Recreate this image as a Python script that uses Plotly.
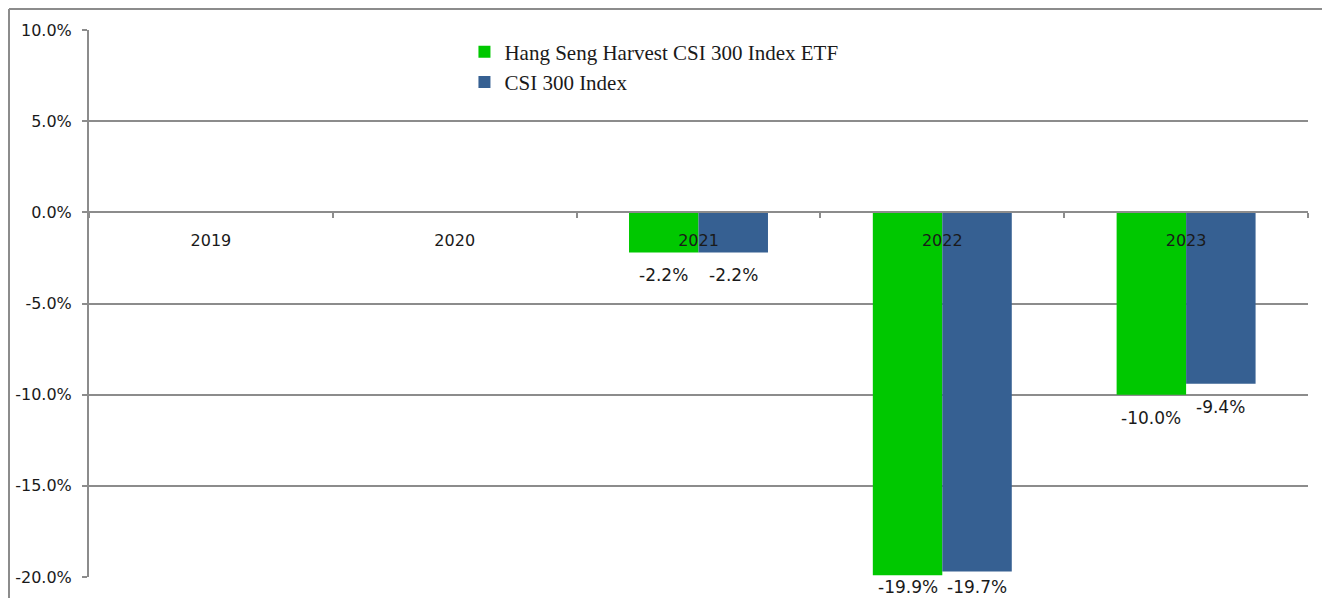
import plotly.graph_objects as go

years = ["2019", "2020", "2021", "2022", "2023"]
etf = [None, None, -2.2, -19.9, -10.0]
index = [None, None, -2.2, -19.7, -9.4]
etf_name = "Hang Seng Harvest CSI 300 Index ETF"
index_name = "CSI 300 Index"
tick_vals = [-20, -15, -10, -5, 0, 5, 10]

GREEN = "#00C800"
BLUE = "#366092"
GRID = "#8c8c8c"
TXT = "#1a1a1a"

# page has an 8px body margin, so the figure is a little smaller than the window
W, H = 1322, 590
ML, MR, MT, MB = 81, 22, 22, 21
YMIN, YMAX = -20, 10
plot_w = W - ML - MR
plot_h = H - MT - MB
BARGAP = 0.43

fig = go.Figure()
fig.add_trace(go.Bar(x=years, y=etf, name=etf_name, marker=dict(color=GREEN, line=dict(width=0))))
fig.add_trace(go.Bar(x=years, y=index, name=index_name, marker=dict(color=BLUE, line=dict(width=0))))

# data labels below bar ends (kept inside the chart area)
bar_px = plot_w / len(years) * (1 - BARGAP) / 2
for series, sign in ((etf, -1), (index, 1)):
    for i, v in enumerate(series):
        if v is None:
            continue
        px = MT + (YMAX - v) / (YMAX - YMIN) * plot_h
        shift = min(23, (H - 11) - px)
        fig.add_annotation(x=i, y=v, xref="x", yref="y", text=f"{v:.1f}%", showarrow=False,
                           xshift=sign * bar_px / 2, yshift=-shift,
                           yanchor="middle", xanchor="center",
                           font=dict(family="DejaVu Sans", size=17, color=TXT))

# outer chart-area border (top and left)
bx = (1 - ML) / plot_w
by = 1 + (MT - 1) / plot_h
fig.add_shape(type="line", xref="paper", yref="paper",
              x0=bx, x1=1.1, y0=by, y1=by, line=dict(color=GRID, width=2))
fig.add_shape(type="line", xref="paper", yref="paper",
              x0=bx, x1=bx, y0=by, y1=-0.2, line=dict(color=GRID, width=2))

fig.update_layout(
    width=W, height=H,
    margin=dict(l=ML, r=MR, t=MT, b=MB, autoexpand=False),
    paper_bgcolor="white", plot_bgcolor="white",
    barmode="group", bargap=BARGAP, bargroupgap=0,
    showlegend=True,
    legend=dict(x=0.308, y=0.997, xanchor="left", yanchor="top",
                bgcolor="rgba(0,0,0,0)", traceorder="normal",
                font=dict(family="Liberation Serif", size=21, color=TXT),
                itemwidth=30, tracegroupgap=0),
    font=dict(family="DejaVu Sans", color=TXT),
)
fig.update_xaxes(type="category", categoryorder="array", categoryarray=years,
                 range=[-0.5, len(years) - 0.5], tickangle=0, automargin=False,
                 anchor="free", position=(0 - YMIN) / (YMAX - YMIN),
                 showline=True, linecolor=GRID, linewidth=2,
                 ticks="outside", tickson="boundaries", ticklen=5, tickcolor=GRID, tickwidth=2,
                 showgrid=False, tickfont=dict(family="DejaVu Sans", size=16, color=TXT),
                 ticklabelstandoff=13)
fig.update_yaxes(range=[YMIN, YMAX], tickvals=tick_vals, automargin=False,
                 ticktext=[f"{t:.1f}%" for t in tick_vals],
                 showline=True, linecolor=GRID, linewidth=2,
                 ticks="outside", ticklen=5, tickcolor=GRID, tickwidth=2,
                 showgrid=True, gridcolor=GRID, gridwidth=2, zeroline=False,
                 tickfont=dict(family="DejaVu Sans", size=16, color=TXT),
                 ticklabelstandoff=7)

fig.write_html("out.html")
